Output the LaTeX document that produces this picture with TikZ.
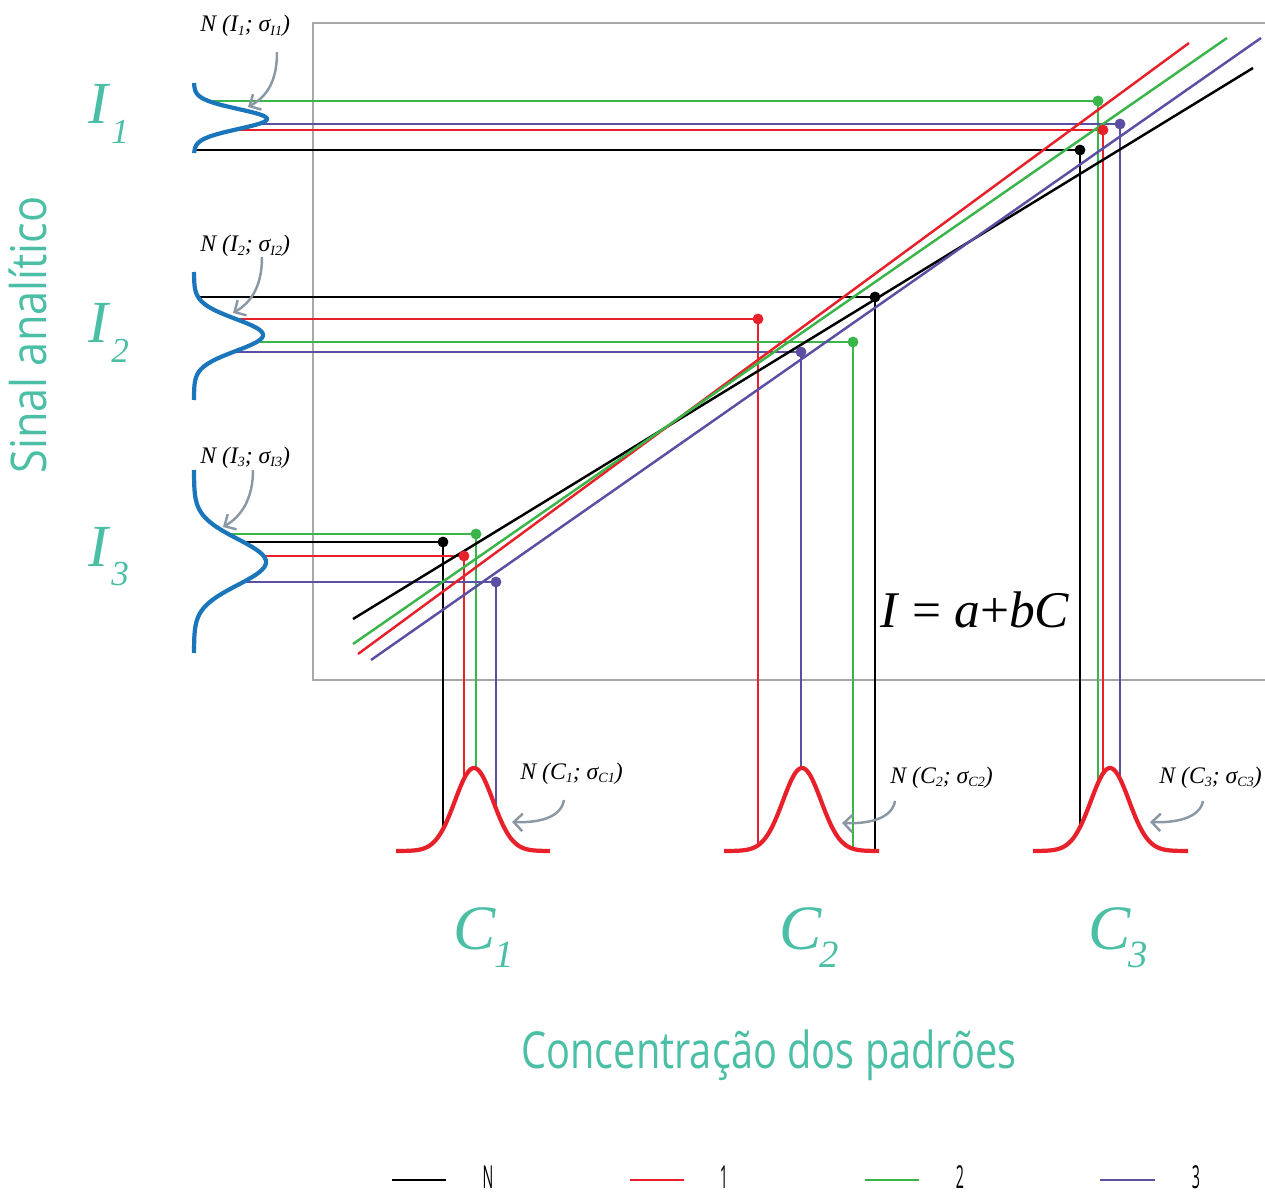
\documentclass[tikz,border=0pt]{standalone}
\usepackage{fontspec}
\setmainfont{Liberation Serif}
\newfontfamily\axfont[FakeStretch=0.78]{Open Sans}
\newfontfamily\yaxfont[FakeStretch=0.88]{Open Sans}
\newfontfamily\legfont[FakeStretch=0.45]{Open Sans}
\usetikzlibrary{arrows.meta}
\definecolor{cred}{HTML}{E8202A}
\definecolor{cgreen}{HTML}{3AB54A}
\definecolor{cpurple}{HTML}{5A4FA2}
\definecolor{cblue}{HTML}{1B75BB}
\definecolor{cteal}{HTML}{4BBFA5}
\definecolor{carrow}{HTML}{8A98A5}
\definecolor{cframe}{HTML}{A8A8A8}
\newcommand\lsub[1]{\raisebox{-0.35ex}{\fontsize{8}{8}\selectfont #1}}
\newcommand\nlabel[2]{N (#1\lsub{#2}; σ\lsub{#1#2})}
\tikzset{
  frameline/.style={draw=cframe, line width=0.6pt},
  fitline/.style={line width=1.4pt},
  guide/.style={line width=1.1pt},
  dotmark/.style={circle, inner sep=0pt, minimum size=6.2pt},
  gausI/.style={draw=cblue, line width=2.4pt},
  gausC/.style={draw=cred, line width=2.4pt},
  note/.style={font=\itshape\fontsize{13.5}{13.5}\selectfont, inner sep=0pt, anchor=base west},
  callout/.style={draw=carrow, line width=1.4pt, -{Straight Barb[length=5pt,width=10pt]}},
  bigmain/.style={text=cteal, font=\itshape\fontsize{34}{34}\selectfont, inner sep=0pt, anchor=base west},
  bigsub/.style={text=cteal, font=\itshape\fontsize{20}{20}\selectfont, inner sep=0pt, anchor=base west},
  bigC/.style={text=cteal, font=\itshape\fontsize{36}{36}\selectfont, inner sep=0pt, anchor=base west},
  bigCsub/.style={text=cteal, font=\itshape\fontsize{22}{22}\selectfont, inner sep=0pt, anchor=base west},
  legline/.style={line width=1.6pt},
  legtext/.style={font=\legfont\fontsize{18}{18}\selectfont, inner sep=0pt, text depth=0pt, anchor=base},
}
\begin{document}
\begin{tikzpicture}[x=0.02cm, y=-0.02cm]
\useasboundingbox (0,0) rectangle (1265,1196);
% frame
\draw[frameline] (1265,23) -- (313,23) -- (313,680) -- (1265,680);

% guides: series N
\draw[guide, black] (194,150) -- (1080,150) -- (1080,827);
\draw[guide, black] (198,297) -- (875,297) -- (875,850);
\draw[guide, black] (243,542) -- (443,542) -- (443,829);
% series 1
\draw[guide, cred] (234,130) -- (1103,130) -- (1103,773);
\draw[guide, cred] (238,319) -- (758,319) -- (758,845);
\draw[guide, cred] (263,556) -- (464,556) -- (464,779);
% series 2
\draw[guide, cgreen] (206,101) -- (1098,101) -- (1098,783);
\draw[guide, cgreen] (260,342) -- (853,342) -- (853,849);
\draw[guide, cgreen] (228,534) -- (476,534) -- (476,769);
% series 3
\draw[guide, cpurple] (258,124) -- (1120,124) -- (1120,779);
\draw[guide, cpurple] (236,352) -- (801,352) -- (801,769);
\draw[guide, cpurple] (243,582) -- (496,582) -- (496,809);

% fitted lines
\draw[fitline, black] (353,619) -- (1253,68);
\draw[fitline, cred] (358,654) -- (1189,43);
\draw[fitline, cgreen] (353,644) -- (1227,38);
\draw[fitline, cpurple] (371,660) -- (1261,38);

% dots
\node[dotmark, fill=black] (nI1) at (1080,150) {};
\node[dotmark, fill=black] (nI2) at (875,297) {};
\node[dotmark, fill=black] (nI3) at (443,542) {};
\node[dotmark, fill=cred] (rI1) at (1103,130) {};
\node[dotmark, fill=cred] (rI2) at (758,319) {};
\node[dotmark, fill=cred] (rI3) at (464,556) {};
\node[dotmark, fill=cgreen] (gI1) at (1098,101) {};
\node[dotmark, fill=cgreen] (gI2) at (853,342) {};
\node[dotmark, fill=cgreen] (gI3) at (476,534) {};
\node[dotmark, fill=cpurple] (pI1) at (1120,124) {};
\node[dotmark, fill=cpurple] (pI2) at (801,352) {};
\node[dotmark, fill=cpurple] (pI3) at (496,582) {};

% blue gaussians (signal)
\draw[gausI] plot[domain=-36:34, samples=80, smooth] ({194+73*exp(-(\x)^2/200)}, {119+\x});
\draw[gausI] plot[domain=-63:65, samples=100, smooth] ({194+69*exp(-(\x)^2/512)}, {335+\x});
\draw[gausI] plot[domain=-92:91, samples=120, smooth] ({194+72*exp(-(\x)^2/1058)}, {562+\x});

% red gaussians (concentration)
\draw[gausC] plot[domain=-78:76, samples=100, smooth] ({474+\x}, {851-83*exp(-(\x)^2/722)});
\draw[gausC] plot[domain=-78:77, samples=100, smooth] ({802+\x}, {851-83*exp(-(\x)^2/722)});
\draw[gausC] plot[domain=-77:78, samples=100, smooth] ({1110+\x}, {851-83*exp(-(\x)^2/722)});

% callout labels
\node[note] (lI1) at (200,32) {\nlabel{I}{1}};
\node[note] (lI2) at (200,252) {\nlabel{I}{2}};
\node[note] (lI3) at (200,463) {\nlabel{I}{3}};
\node[note] (lC1) at (520,779) {\nlabel{C}{1}};
\node[note] (lC2) at (890,783) {\nlabel{C}{2}};
\node[note] (lC3) at (1159,783) {\nlabel{C}{3}};
\coordinate (aI1) at (248,107);
\coordinate (aI2) at (233,313);
\coordinate (aI3) at (223,527);
\coordinate (aC1) at (512,822);
\coordinate (aC2) at (842,823);
\coordinate (aC3) at (1150,822);
\draw[callout] (277,52) .. controls (277,80) and (268,96) .. (aI1);
\draw[callout] (262,257) .. controls (262,285) and (252,302) .. (aI2);
\draw[callout] (253,470) .. controls (253,498) and (242,516) .. (aI3);
\draw[callout] (564,800) .. controls (561,818) and (538,823) .. (aC1);
\draw[callout] (895,801) .. controls (892,819) and (868,824) .. (aC2);
\draw[callout] (1203,801) .. controls (1200,818) and (1176,823) .. (aC3);

% axis level labels
\node[bigmain] (I1) at (88,124) {I};
\node[bigsub] (I1s) at (111,144) {1};
\node[bigmain] (I2) at (88,342) {I};
\node[bigsub] (I2s) at (111,362) {2};
\node[bigmain] (I3) at (88,566) {I};
\node[bigsub] (I3s) at (111,585) {3};
\node[bigC] (C1) at (453,949) {C};
\node[bigCsub] (C1s) at (494,967) {1};
\node[bigC] (C2) at (779,949) {C};
\node[bigCsub] (C2s) at (819,967) {2};
\node[bigC] (C3) at (1088,949) {C};
\node[bigCsub] (C3s) at (1128,967) {3};

% equation
\node[inner sep=0pt, anchor=base west, font=\fontsize{29.3}{29.3}\selectfont] (eq) at (880,627) {\textit{I} = \textit{a}+\textit{bC}};

% axis titles
\node[inner sep=0pt, anchor=base, rotate=90, text=cteal, font=\yaxfont\fontsize{28}{28}\selectfont] (ylab) at (47,335) {Sinal analítico};
\node[inner sep=0pt, anchor=base, text=cteal, font=\axfont\fontsize{29}{29}\selectfont] (xlab) at (769,1068) {Concentração dos padrões};

% legend
\draw[legline, black] (392,1180) -- (446,1180);
\node[legtext] (legN) at (488,1188) {N};
\draw[legline, cred] (630,1180) -- (684,1180);
\node[legtext] (leg1) at (724,1188) {1};
\draw[legline, cgreen] (865,1180) -- (919,1180);
\node[legtext] (leg2) at (960,1188) {2};
\draw[legline, cpurple] (1100,1180) -- (1155,1180);
\node[legtext] (leg3) at (1196,1188) {3};
\end{tikzpicture}
\end{document}
